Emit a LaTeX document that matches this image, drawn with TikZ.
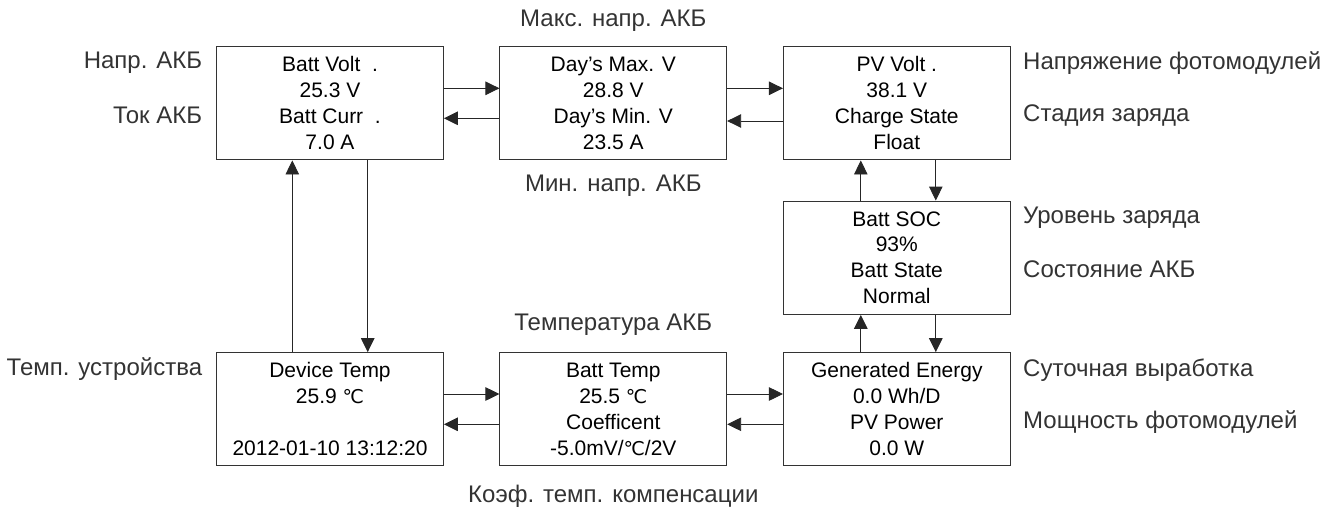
\documentclass[tikz,border=0pt]{standalone}
\usepackage{fontspec}
\setmainfont{Liberation Sans}
\newfontfamily\symfont{DejaVu Sans}
\usetikzlibrary{arrows.meta}

\newcommand{\degc}{{\symfont\fontsize{19}{19}\selectfont ℃}}

\begin{document}
\begin{tikzpicture}[x=1pt, y=-1pt,
  screen/.style={draw=black!80, line width=1pt, minimum width=226.7pt, minimum height=113.3pt,
    align=center, inner sep=0pt, font=\fontsize{21}{25.9}\selectfont},
  note/.style={text=black!80, inner sep=0pt, font=\fontsize{24}{26}\selectfont},
  arr/.style={-{Triangle[length=14pt, width=13.5pt]}, line width=0.9pt, draw=black!85}]

\useasboundingbox (0,0) rectangle (1333,509);

% Screens, top row
\node[screen] (battv) at (330,103.3) {Batt Volt \ .\\25.3 V\\Batt Curr \ .\\7.0 A};
\node[screen] (days) at (613.3,103.3) {Day's Max. V\\28.8 V\\Day's Min. V\\23.5 A};
\node[screen] (pvv) at (896.8,103.3) {PV Volt .\\38.1 V\\Charge State\\Float};

% Middle
\node[screen] (soc) at (896.8,257.7) {Batt SOC\\93\%\\Batt State\\Normal};

% Bottom row
\node[screen] (devt) at (330,409.3) {Device Temp\\25.9 \degc\\ \\2012-01-10 13:12:20};
\node[screen] (batt) at (613.3,409.3) {Batt Temp\\25.5 \degc\\Coefficent\\-5.0mV/\degc/2V};
\node[screen] (gen) at (896.8,409.3) {Generated Energy\\0.0 Wh/D\\PV Power\\0.0 W};

% Arrows, top row
\draw[arr] ([yshift=15pt]battv.east) -- ([yshift=15pt]days.west);
\draw[arr] ([yshift=-15pt]days.west) -- ([yshift=-15pt]battv.east);
\draw[arr] ([yshift=15pt]days.east) -- ([yshift=15pt]pvv.west);
\draw[arr] ([yshift=-17.7pt]pvv.west) -- ([yshift=-17.7pt]days.east);

% Arrows, bottom row
\draw[arr] ([yshift=15.3pt]devt.east) -- ([yshift=15.3pt]batt.west);
\draw[arr] ([yshift=-15pt]batt.west) -- ([yshift=-15pt]devt.east);
\draw[arr] ([yshift=15.3pt]batt.east) -- ([yshift=15.3pt]gen.west);
\draw[arr] ([yshift=-15pt]gen.west) -- ([yshift=-15pt]batt.east);

% Arrows, left column
\draw[arr] ([xshift=-37.7pt]devt.north) -- ([xshift=-37.7pt]battv.south);
\draw[arr] ([xshift=37.7pt]battv.south) -- ([xshift=37.7pt]devt.north);

% Arrows, right column
\draw[arr] ([xshift=-36pt]soc.north) -- ([xshift=-36pt]pvv.south);
\draw[arr] ([xshift=39pt]pvv.south) -- ([xshift=39pt]soc.north);
\draw[arr] ([xshift=-36pt]gen.north) -- ([xshift=-36pt]soc.south);
\draw[arr] ([xshift=39pt]soc.south) -- ([xshift=39pt]gen.north);

% Notes, left
\node[note, anchor=east] (nbv) at (202.3,63) {Напр. АКБ};
\node[note, anchor=east] (nbc) at (202.3,115.5) {Ток АКБ};
\node[note, anchor=east] (ndt) at (202.3,369.5) {Темп. устройства};

% Notes, middle
\node[note] (nmax) at (613.3,20.5) {Макс. напр. АКБ};
\node[note] (nmin) at (613.3,185.7) {Мин. напр. АКБ};
\node[note] (nbt) at (613.3,325) {Температура АКБ};
\node[note] (ncoef) at (613.3,496) {Коэф. темп. компенсации};

% Notes, right
\node[note, anchor=west] (npv) at (1023,63) {Напряжение фотомодулей};
\node[note, anchor=west] (nchg) at (1023,115.5) {Стадия заряда};
\node[note, anchor=west] (nsoc) at (1023,218) {Уровень заряда};
\node[note, anchor=west] (nst) at (1023,269.7) {Состояние АКБ};
\node[note, anchor=west] (ngen) at (1023,370.5) {Суточная выработка};
\node[note, anchor=west] (npw) at (1023,422) {Мощность фотомодулей};

\end{tikzpicture}
\end{document}
